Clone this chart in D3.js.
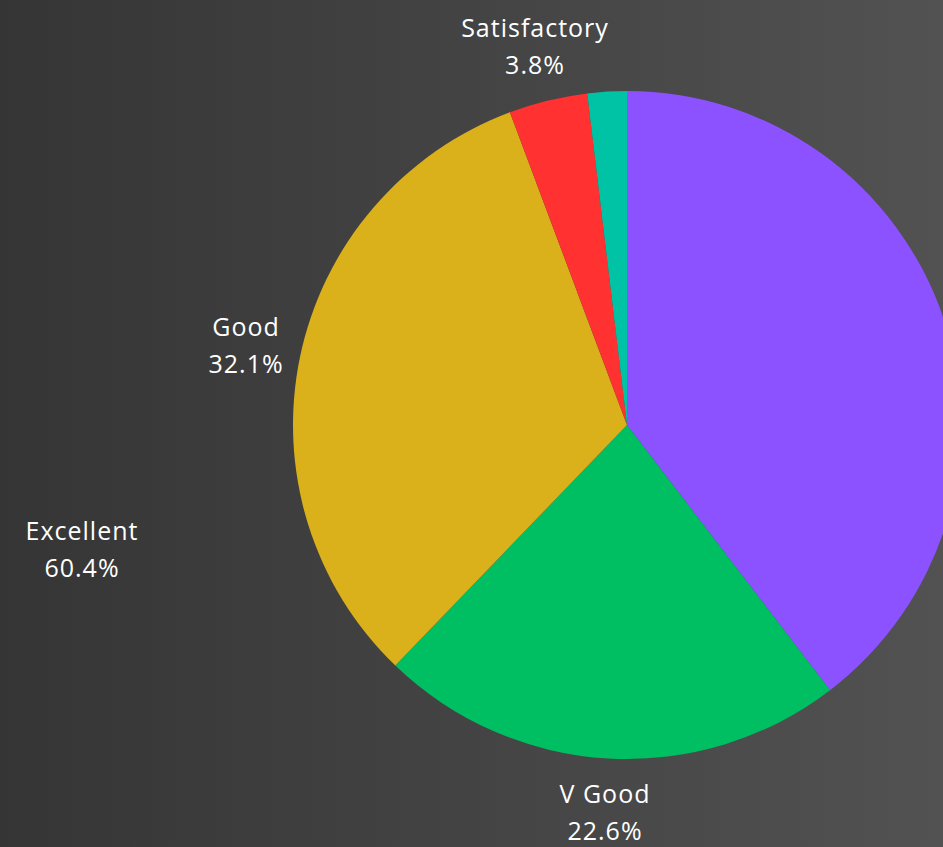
<!DOCTYPE html>
<html>
<head>
<meta charset="utf-8">
<script src="https://cdn.jsdelivr.net/npm/d3@7"></script>
<style>
  html, body { margin: 0; padding: 0; background: #3a3a3a; }
  svg { display: block; }
</style>
</head>
<body>
<svg id="chart" width="943" height="847"></svg>
<script>
// Grade distribution (percent of students), clockwise from 12 o'clock
const categories = ["Excellent", "V Good", "Good", "Satisfactory", "Average"];
const shares = [39.6, 22.6, 32.1, 3.8, 1.9];
const colors = ["#8C52FF", "#00BF63", "#DAB01B", "#FF3131", "#00C3A5"];
// Slices that carry an outside label next to them
const labelled = ["V Good", "Good", "Satisfactory"];
// Summary note placed on the left of the pie
const noteName = "Excellent";
const noteValue = "60.4%";

const width = 943, height = 847;
const cx = 627, cy = 425, radius = 334, labelRadius = 389;

const svg = d3.select("#chart");

const defs = svg.append("defs");
const grad = defs.append("linearGradient")
  .attr("id", "bg").attr("x1", "0%").attr("x2", "100%").attr("y1", "0%").attr("y2", "0%");
grad.append("stop").attr("offset", "0%").attr("stop-color", "#353535");
grad.append("stop").attr("offset", "100%").attr("stop-color", "#525252");
svg.append("rect").attr("width", width).attr("height", height).attr("fill", "url(#bg)");

const data = categories.map((c, i) => ({ name: c, value: shares[i] }));
const color = d3.scaleOrdinal().domain(categories).range(colors);

const pie = d3.pie().value(d => d.value).sort(null);
const arc = d3.arc().innerRadius(0).outerRadius(radius);
const labelArc = d3.arc().innerRadius(labelRadius).outerRadius(labelRadius);

const g = svg.append("g").attr("transform", `translate(${cx},${cy})`);
const arcs = pie(data);

g.selectAll("path.slice")
  .data(arcs)
  .join("path")
  .attr("class", "slice")
  .attr("d", arc)
  .attr("fill", d => color(d.data.name));

const fmt = v => d3.format(".1f")(v) + "%";
const font = "'Open Sans', 'Noto Sans', sans-serif";

function twoLine(sel, name, value) {
  sel.attr("text-anchor", "middle")
    .attr("fill", "#ffffff")
    .style("font-family", font)
    .style("font-size", "25px")
    .style("letter-spacing", "1px");
  sel.append("tspan").attr("x", 0).attr("y", -10).text(name);
  sel.append("tspan").attr("x", 0).attr("y", 27).text(value);
}

g.selectAll("g.label")
  .data(arcs.filter(d => labelled.includes(d.data.name)))
  .join("g")
  .attr("class", "label")
  .attr("transform", d => `translate(${labelArc.centroid(d)})`)
  .each(function(d) {
    twoLine(d3.select(this).append("text"), d.data.name, fmt(d.data.value));
  });

// Left-hand note
svg.append("g")
  .attr("transform", "translate(82,550)")
  .each(function() {
    twoLine(d3.select(this).append("text"), noteName, noteValue);
  });
</script>
</body>
</html>
